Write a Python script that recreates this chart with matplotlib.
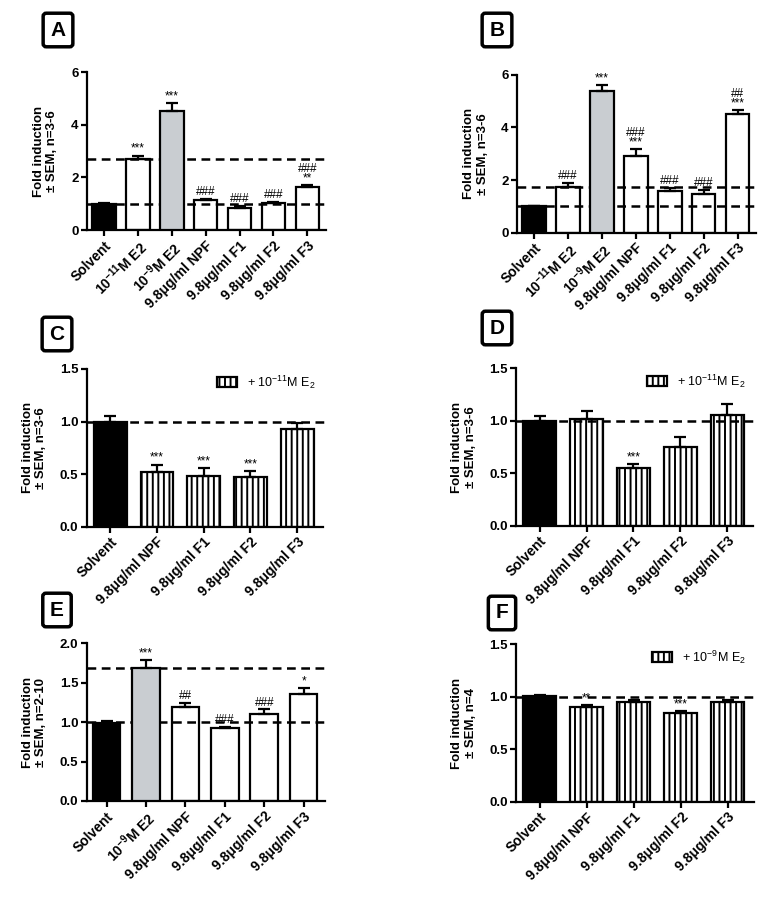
import matplotlib
matplotlib.use("Agg")
import matplotlib.pyplot as plt
from matplotlib.patches import Patch

plt.rcParams["font.family"] = ["Liberation Sans", "DejaVu Sans"]
plt.rcParams["mathtext.fontset"] = "custom"
plt.rcParams["mathtext.rm"] = "Liberation Sans"
plt.rcParams["mathtext.bf"] = "Liberation Sans:bold"
plt.rcParams["hatch.linewidth"] = 1.4

# x tick labels
E2_11 = r"10$^{\mathbf{-11}}$M E2"
E2_9 = r"10$^{\mathbf{-9}}$M E2"
NPF = "9.8\u03bcg/ml NPF"
F1 = "9.8\u03bcg/ml F1"
F2 = "9.8\u03bcg/ml F2"
F3 = "9.8\u03bcg/ml F3"

# panel A
A_labels = ["Solvent", E2_11, E2_9, NPF, F1, F2, F3]
A_vals = [1.0, 2.71, 4.51, 1.13, 0.85, 1.02, 1.64]
A_err = [0.03, 0.12, 0.30, 0.06, 0.06, 0.05, 0.06]
A_sig = ["", "***", "***", "###", "###", "###", "###\n**"]
A_kind = ["solv", "white", "gray", "white", "white", "white", "white"]
A_lines = [1.0, 2.71]

# panel B
B_labels = A_labels
B_vals = [1.0, 1.73, 5.40, 2.90, 1.58, 1.49, 4.51]
B_err = [0.03, 0.16, 0.22, 0.28, 0.12, 0.13, 0.16]
B_sig = ["", "###", "***", "###\n***", "###", "###", "##\n***"]
B_kind = A_kind
B_lines = [1.0, 1.73]

# panel C
C_labels = ["Solvent", NPF, F1, F2, F3]
C_vals = [1.0, 0.52, 0.48, 0.47, 0.93]
C_err = [0.05, 0.07, 0.08, 0.06, 0.06]
C_sig = ["", "***", "***", "***", ""]
C_kind = ["solv", "hatch", "hatch", "hatch", "hatch"]
C_lines = [1.0]

# panel D
D_labels = C_labels
D_vals = [1.0, 1.02, 0.55, 0.75, 1.055]
D_err = [0.04, 0.07, 0.04, 0.09, 0.10]
D_sig = ["", "", "***", "", ""]
D_kind = C_kind
D_lines = [1.0]

# panel E
E_labels = ["Solvent", E2_9, NPF, F1, F2, F3]
E_vals = [0.99, 1.69, 1.19, 0.92, 1.10, 1.36]
E_err = [0.02, 0.09, 0.05, 0.02, 0.06, 0.07]
E_sig = ["", "***", "##", "###", "###", "*"]
E_kind = ["solv", "gray", "white", "white", "white", "white"]
E_lines = [1.0, 1.69]

# panel F
F_labels = C_labels
F_vals = [1.005, 0.90, 0.95, 0.84, 0.95]
F_err = [0.015, 0.02, 0.02, 0.02, 0.02]
F_sig = ["", "**", "", "***", ""]
F_kind = C_kind
F_lines = [1.0]

LW = 1.6
GRAY = "#c9cdd1"


def draw_panel(fig, rect, letter, letter_xy, labels, vals, err, sig, kind, lines,
               ylim, yticks, ylabel, legend=None):
    ax = fig.add_axes(rect)
    n = len(vals)
    xs = list(range(n))

    for x, v, k in zip(xs, vals, kind):
        if k == "solv":
            ax.bar(x, v, 0.7, color="black", edgecolor="black", linewidth=LW, zorder=3)
        elif k == "gray":
            ax.bar(x, v, 0.7, color=GRAY, edgecolor="black", linewidth=LW, zorder=3)
        elif k == "hatch":
            ax.bar(x, v, 0.7, facecolor="none", edgecolor="black", linewidth=LW,
                   hatch="|||", zorder=3)
        else:
            ax.bar(x, v, 0.7, facecolor="none", edgecolor="black", linewidth=LW, zorder=3)

    ax.errorbar(xs, vals, yerr=[[0] * n, err], fmt="none", ecolor="black",
                elinewidth=LW, capsize=4, capthick=LW, zorder=4)

    # dashed reference lines
    right = n - 0.45
    for y in lines:
        ax.plot([-0.5, right + 0.05], [y, y], color="black", lw=1.8,
                linestyle=(0, (3.5, 2.2)), zorder=2, clip_on=False)

    span = ylim[1] - ylim[0]
    for x, v, e, s in zip(xs, vals, err, sig):
        if s:
            ax.text(x, v + e + 0.005 * span, s, ha="center", va="bottom",
                    fontsize=8.5, linespacing=0.72, zorder=5)

    ax.set_xlim(-0.5, right)
    ax.set_ylim(*ylim)
    ax.set_yticks(yticks)
    ax.set_yticklabels([str(t) for t in yticks], fontsize=9.5, fontweight="bold")
    ax.set_xticks(xs)
    ax.set_xticklabels(labels, rotation=45, ha="right", rotation_mode="anchor",
                       fontsize=10, fontweight="bold")
    ax.tick_params(width=LW, length=4, direction="out", pad=2)
    for sp in ["top", "right"]:
        ax.spines[sp].set_visible(False)
    for sp in ["left", "bottom"]:
        ax.spines[sp].set_linewidth(LW)
    ax.set_ylabel(ylabel, fontsize=9.5, fontweight="bold", labelpad=9, linespacing=1.15)

    if legend:
        h = Patch(facecolor="white", edgecolor="black", hatch="|||", linewidth=LW)
        ax.legend([h], [legend], loc="upper right", frameon=False, fontsize=9,
                  handlelength=1.6, handleheight=0.9, handletextpad=0.8,
                  bbox_to_anchor=(1.0, 1.02), borderaxespad=0.2)

    fig.text(letter_xy[0] / 782, 1 - letter_xy[1] / 902, letter, ha="center", va="center",
             fontsize=15, fontweight="bold",
             bbox=dict(boxstyle="round,pad=0.35,rounding_size=0.15", facecolor="white",
                       edgecolor="black", linewidth=2.5))
    return ax


fig = plt.figure(figsize=(7.82, 9.02), dpi=100)

lab36 = "Fold induction\n\u00b1 SEM, n=3-6"
leg11 = r"+ 10$^{-11}$M E$_2$"
leg9 = r"+ 10$^{-9}$M E$_2$"

draw_panel(fig, [0.111, 0.745, 0.306, 0.175], "A", (58, 30), A_labels, A_vals, A_err,
           A_sig, A_kind, A_lines, (0, 6), [0, 2, 4, 6], lab36)
draw_panel(fig, [0.661, 0.742, 0.306, 0.175], "B", (497, 30), B_labels, B_vals, B_err,
           B_sig, B_kind, B_lines, (0, 6), [0, 2, 4, 6], lab36)
draw_panel(fig, [0.111, 0.416, 0.302, 0.175], "C", (57, 334), C_labels, C_vals, C_err,
           C_sig, C_kind, C_lines, (0, 1.5), [0.0, 0.5, 1.0, 1.5], lab36, leg11)
draw_panel(fig, [0.660, 0.417, 0.303, 0.175], "D", (497, 328), D_labels, D_vals, D_err,
           D_sig, D_kind, D_lines, (0, 1.5), [0.0, 0.5, 1.0, 1.5], lab36, leg11)
draw_panel(fig, [0.111, 0.112, 0.305, 0.175], "E", (57, 610), E_labels, E_vals, E_err,
           E_sig, E_kind, E_lines, (0, 2.0), [0.0, 0.5, 1.0, 1.5, 2.0],
           "Fold induction\n\u00b1 SEM, n=2-10")
draw_panel(fig, [0.660, 0.111, 0.304, 0.175], "F", (502, 613), F_labels, F_vals, F_err,
           F_sig, F_kind, F_lines, (0, 1.5), [0.0, 0.5, 1.0, 1.5],
           "Fold induction\n\u00b1 SEM, n=4", leg9)

fig.savefig("out.png", dpi=100)
